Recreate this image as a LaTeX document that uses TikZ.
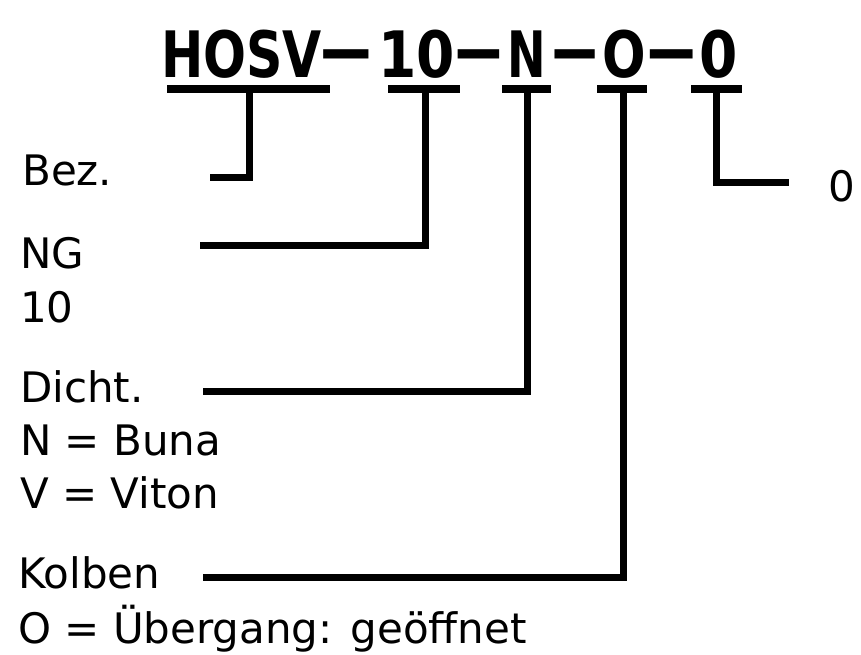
\documentclass[tikz,border=0pt]{standalone}
\usepackage{fontspec}
\setmainfont{DejaVu Sans}
\begin{document}
\begin{tikzpicture}[x=1pt,y=-1pt,
  ttl/.style={inner sep=0pt,anchor=base,font=\bfseries\fontsize{64}{64}\selectfont},
  dsh/.style={inner sep=0pt,anchor=base,font=\bfseries\fontsize{64}{64}\selectfont},
  lbl/.style={inner sep=0pt,anchor=base west,font=\fontsize{42}{42}\selectfont},
  conn/.style={line width=7pt,line cap=butt,line join=miter},
  uline/.style={line width=7.5pt,line cap=butt}]
\path[fill=white,use as bounding box] (0,0) rectangle (861,654);
% title segments
\node[ttl] (tH) at (241.5,77) {\scalebox{0.79}[1]{HOSV}};
\node[dsh] (d1) at (346.5,77) {\raisebox{2.5pt}{\scalebox{1.8}[1.15]{–}}};
\node[ttl] (t10) at (416.5,77) {\scalebox{0.86}[1]{10}};
\node[dsh] (d2) at (478.5,77) {\raisebox{2.5pt}{\scalebox{1.65}[1.15]{–}}};
\node[ttl] (tN) at (526.5,77) {\scalebox{0.72}[1]{N}};
\node[dsh] (d3) at (575,77) {\raisebox{2.5pt}{\scalebox{1.6}[1.15]{–}}};
\node[ttl] (tO) at (624,77) {\scalebox{0.80}[1]{O}};
\node[dsh] (d4) at (671.5,77) {\raisebox{2.5pt}{\scalebox{1.7}[1.15]{–}}};
\node[ttl] (t0) at (718.5,77) {\scalebox{0.86}[1]{0}};
% labels
\node[lbl] (bez) at (22,185) {Bez.};
\node[lbl] (ng) at (20,268) {NG};
\node[lbl] (ng10) at (20,322) {10};
\node[lbl] (dicht) at (20,402) {Dicht.};
\node[lbl] (buna) at (20,455) {N = Buna};
\node[lbl] (viton) at (20,508) {V = Viton};
\node[lbl] (kolben) at (18,588) {Kolben};
\node[lbl] (offen) at (18,643) {O = Übergang: geöffnet};
\node[lbl] (rO) at (828,201) {0};
% underline coordinates
\coordinate (uHl) at (167,89); \coordinate (uHr) at (330,89); \coordinate (sH) at (249,89);
\coordinate (u10l) at (388,89); \coordinate (u10r) at (460,89); \coordinate (s10) at (425,89);
\coordinate (uNl) at (502,89); \coordinate (uNr) at (551,89); \coordinate (sN) at (527,89);
\coordinate (uOl) at (597,89); \coordinate (uOr) at (647,89); \coordinate (sO) at (623,89);
\coordinate (u0l) at (691,89); \coordinate (u0r) at (742,89); \coordinate (s0) at (716,89);
% connector ends
\coordinate (eBez) at (210,177);
\coordinate (eNG) at (200,245);
\coordinate (eDicht) at (203,391);
\coordinate (eKolben) at (203,577);
\coordinate (eR) at (789,182);
\draw[uline] (uHl) -- (uHr);
\draw[uline] (u10l) -- (u10r);
\draw[uline] (uNl) -- (uNr);
\draw[uline] (uOl) -- (uOr);
\draw[uline] (u0l) -- (u0r);
\draw[conn] (sH) |- (eBez);
\draw[conn] (s10) |- (eNG);
\draw[conn] (sN) |- (eDicht);
\draw[conn] (sO) |- (eKolben);
\draw[conn] (s0) |- (eR);
\end{tikzpicture}
\end{document}
